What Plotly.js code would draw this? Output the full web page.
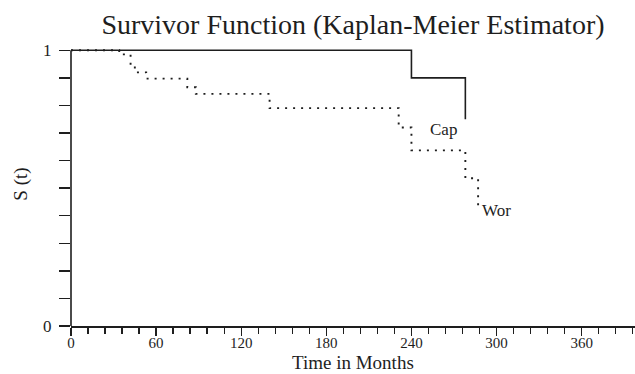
<!DOCTYPE html>
<html>
<head>
<meta charset="utf-8">
<script src="https://cdn.plot.ly/plotly-3.0.1.min.js"></script>
<style>
  html, body { margin: 0; padding: 0; background: #ffffff; }
  #km { width: 635px; height: 374px; }
</style>
</head>
<body>
<div id="km"></div>
<script>
// Kaplan-Meier survivor estimates (time in months, S(t))
const capTime = [0, 240, 278];
const capSurv = [1, 0.9, 0.75];

const worTime = [0, 34, 42, 45, 53, 82, 88, 140, 231, 240, 278, 287];
const worSurv = [1, 0.985, 0.945, 0.92, 0.897, 0.866, 0.842, 0.79, 0.72, 0.637, 0.536, 0.433];

// Curve labels: [text, time, S]
const curveLabels = [
  ["Cap", 252, 0.712],
  ["Wor", 288, 0.418]
];

// Axis ticks
const xMajorTicks = [0, 60, 120, 180, 240, 300, 360];
const yTickVals = [0, 0.1, 0.2, 0.3, 0.4, 0.5, 0.6, 0.7, 0.8, 0.9, 1];
const yTickText = ["0", "", "", "", "", "", "", "", "", "", "1"];

const xTitle = "Time in Months";
const yTitle = "S (t)";

const ink = "#1e1e1e";
const serif = "Liberation Serif, Times New Roman, serif";

const traces = [
  {
    x: capTime, y: capSurv, name: "Cap",
    type: "scatter", mode: "lines",
    line: { shape: "hv", color: ink, width: 1.6 }
  },
  {
    x: worTime, y: worSurv, name: "Wor",
    type: "scatter", mode: "lines",
    line: { shape: "hv", color: ink, width: 1.9, dash: "2px,6px" }
  }
];

const plotTop = 42.4, plotBottom = 48, pageH = 374;
const plotH = pageH - plotTop - plotBottom;

const annotations = curveLabels.map(([text, t, s]) => ({
  x: t, y: s, xref: "x", yref: "y",
  text: text, showarrow: false,
  xanchor: "left", yanchor: "middle",
  font: { family: serif, size: 17, color: ink }
}));

// x-axis title sits just under the tick labels, near the bottom edge
annotations.push({
  text: xTitle, showarrow: false,
  xref: "paper", x: 0.5, xanchor: "center",
  yref: "paper", y: -36 / plotH, yanchor: "middle",
  borderpad: 0,
  font: { family: serif, size: 19, color: ink }
});

const layout = {
  width: 635,
  height: pageH,
  margin: { l: 71, r: 0, t: plotTop, b: plotBottom },
  paper_bgcolor: "#ffffff",
  plot_bgcolor: "#ffffff",
  showlegend: false,
  font: { family: serif, color: ink, size: 17 },
  title: {
    text: "Survivor Function (Kaplan-Meier Estimator)",
    font: { family: serif, size: 28, color: ink },
    xref: "paper", x: 0.5, xanchor: "center",
    yref: "container", y: 0.936, yanchor: "middle"
  },
  xaxis: {
    range: [0, 397.6],
    showgrid: false, zeroline: false,
    showline: true, linecolor: ink, linewidth: 1.6,
    ticks: "outside", ticklen: 8, tickwidth: 1.4, tickcolor: ink,
    tickmode: "array", tickvals: xMajorTicks,
    tickfont: { family: serif, size: 15, color: ink },
    ticklabelstandoff: -6,
    minor: { dtick: 12, tick0: 0, ticks: "outside", ticklen: 6, tickwidth: 1.4, tickcolor: ink, showgrid: false },
    automargin: false
  },
  yaxis: {
    range: [0, 1.03],
    showgrid: false, zeroline: false,
    showline: false,
    ticks: "outside", ticklen: 11, tickwidth: 1.4, tickcolor: ink,
    tickmode: "array", tickvals: yTickVals, ticktext: yTickText,
    tickfont: { family: serif, size: 17, color: ink },
    ticklabelstandoff: 4,
    title: { text: yTitle, font: { family: serif, size: 19, color: ink }, standoff: 10 },
    automargin: false
  },
  shapes: [
    {
      type: "line", xref: "paper", yref: "y",
      x0: 0, x1: 0, y0: 0, y1: 1,
      line: { color: ink, width: 1.6 }
    }
  ],
  annotations: annotations
};

Plotly.newPlot("km", traces, layout, { staticPlot: true, displayModeBar: false });
</script>
</body>
</html>
